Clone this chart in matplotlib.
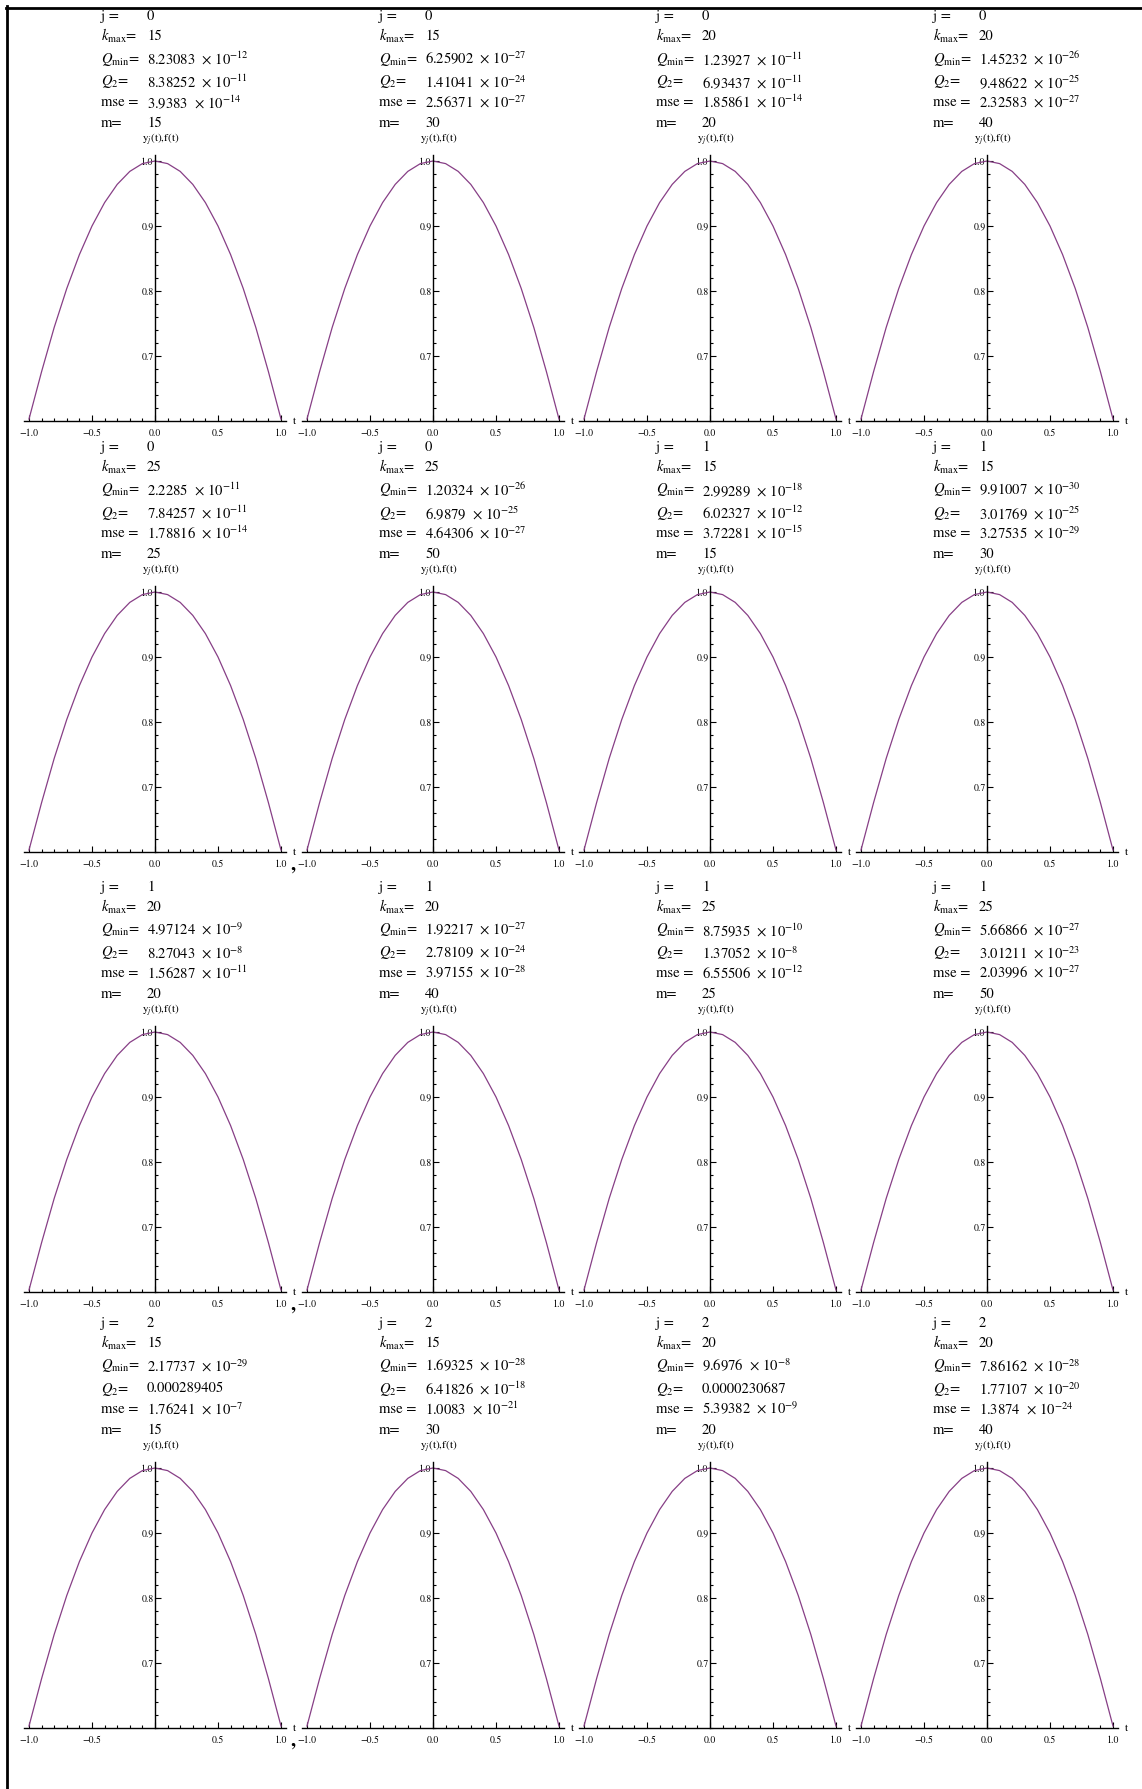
import math
import matplotlib
matplotlib.use("Agg")
import matplotlib.pyplot as plt
from matplotlib.lines import Line2D
from matplotlib.ticker import FixedLocator, MultipleLocator

plt.rcParams["font.family"] = ["STIXGeneral", "DejaVu Serif"]
plt.rcParams["mathtext.fontset"] = "stix"

# --- run parameters, one entry per panel (row-major, 4 x 4) ---
j_vals = [0, 0, 0, 0,
          0, 0, 1, 1,
          1, 1, 1, 1,
          2, 2, 2, 2]
kmax_vals = [15, 15, 20, 20,
             25, 25, 15, 15,
             20, 20, 25, 25,
             15, 15, 20, 20]
q_min = [8.23083e-12, 6.25902e-27, 1.23927e-11, 1.45232e-26,
         2.2285e-11, 1.20324e-26, 2.99289e-18, 9.91007e-30,
         4.97124e-9, 1.92217e-27, 8.75935e-10, 5.66866e-27,
         2.17737e-29, 1.69325e-28, 9.6976e-8, 7.86162e-28]
q_two = [8.38252e-11, 1.41041e-24, 6.93437e-11, 9.48622e-25,
         7.84257e-11, 6.9879e-25, 6.02327e-12, 3.01769e-25,
         8.27043e-8, 2.78109e-24, 1.37052e-8, 3.01211e-23,
         0.000289405, 6.41826e-18, 0.0000230687, 1.77107e-20]
mse_vals = [3.9383e-14, 2.56371e-27, 1.85861e-14, 2.32583e-27,
            1.78816e-14, 4.64306e-27, 3.72281e-15, 3.27535e-29,
            1.56287e-11, 3.97155e-28, 6.55506e-12, 2.03996e-27,
            1.76241e-7, 1.0083e-21, 5.39382e-9, 1.3874e-24]
m_vals = [15, 30, 20, 40,
          25, 50, 15, 30,
          20, 40, 25, 50,
          15, 30, 20, 40]

# --- sampled curve y_j(t) (coincides with f(t)) ---
t_pts = [-1.0, -0.9, -0.8, -0.7, -0.6, -0.5, -0.4, -0.3, -0.2, -0.1, 0.0,
         0.1, 0.2, 0.3, 0.4, 0.5, 0.6, 0.7, 0.8, 0.9, 1.0]
y_pts = [0.603, 0.676, 0.744, 0.804, 0.856, 0.900, 0.936, 0.964, 0.984, 0.996, 1.000,
         0.996, 0.984, 0.964, 0.936, 0.900, 0.856, 0.804, 0.744, 0.676, 0.603]

x_major = [-1.0, -0.5, 0.0, 0.5, 1.0]
x_labels = ["\u22121.0", "\u22120.5", "0.0", "0.5", "1.0"]
y_major = [0.7, 0.8, 0.9, 1.0]
y_labels = ["0.7", "0.8", "0.9", "1.0"]

W, H = 1142, 1789
fig = plt.figure(figsize=(W / 100, H / 100), dpi=100)


def fx(x):
    return x / W


def fy(y):
    return 1 - y / H


def fmt(v):
    e = math.floor(math.log10(v))
    if e >= -5:
        return f"{v:.{5 - e}f}".rstrip("0")
    mant = f"{v / 10 ** e:.5f}".rstrip("0").rstrip(".")
    return mant + "  \u00d7 10$^{-" + str(-e) + "}$"


# layout in pixels
col_cx = [155, 433, 710, 987]
half_w = 126
ext = 5
row_j = [16, 447, 887, 1323]          # first header line of each row
line_off = [0, 20, 43, 66, 86, 107]   # header line offsets below it
ylab_off = 124
top_off = 145                          # y = 1.0 level
plot_h = 260                           # from 1.0 down to the t axis

header_names = ["j =", r"$k_{\rm max}$=", r"$Q_{\rm min}$=", r"$Q_{2}$=", "mse =", "m="]
curve_color = "#873f86"

for idx in range(16):
    r, c = divmod(idx, 4)
    cx = col_cx[c]
    ytop = row_j[r] + top_off
    ybot = ytop + plot_h
    unit_y = plot_h / 0.4
    top_px = ytop - 6
    left_px = cx - half_w - ext
    right_px = cx + half_w + ext
    ax = fig.add_axes([fx(left_px), fy(ybot), (right_px - left_px) / W, (ybot - top_px) / H])
    ax.set_xlim(-1 - ext / half_w, 1 + ext / half_w)
    ax.set_ylim(0.6, 1.0 + 6 / unit_y)
    ax.patch.set_alpha(0)
    ax.plot(t_pts, y_pts, color=curve_color, lw=0.9, solid_joinstyle="round", clip_on=False)

    for s in ("top", "right"):
        ax.spines[s].set_visible(False)
    ax.spines["left"].set_position(("data", 0.0))
    ax.spines["left"].set_linewidth(1.0)
    ax.spines["bottom"].set_linewidth(1.0)

    ax.xaxis.set_major_locator(FixedLocator(x_major))
    ax.xaxis.set_minor_locator(MultipleLocator(0.1))
    ax.yaxis.set_major_locator(FixedLocator(y_major))
    ax.yaxis.set_minor_locator(MultipleLocator(0.02))
    xl = list(x_labels)
    if idx == 12:
        xl[2] = ""
    ax.set_xticklabels(xl)
    ax.set_yticklabels(y_labels)
    ax.tick_params(which="both", direction="in", width=0.8, labelsize=7)
    ax.tick_params(which="major", length=4)
    ax.tick_params(which="minor", length=2.5)
    ax.tick_params(axis="x", pad=5)
    ax.tick_params(axis="y", pad=1)

    # axis names
    fig.text(fx(cx + half_w + 12), fy(ybot), "t", fontsize=8, va="center", ha="left")
    fig.text(fx(cx - 13), fy(row_j[r] + ylab_off), r"y$_{\mathit{j}}$(t),f(t)", fontsize=8,
             va="center", ha="left")

    # run parameters above each panel
    vals = [str(j_vals[idx]), str(kmax_vals[idx]), fmt(q_min[idx]), fmt(q_two[idx]),
            fmt(mse_vals[idx]), str(m_vals[idx])]
    for k in range(6):
        yy = fy(row_j[r] + line_off[k])
        fig.text(fx(cx - 54), yy, header_names[k], fontsize=10.5, va="center", ha="left")
        fig.text(fx(cx - 8), yy, vals[k], fontsize=10.5, va="center", ha="left")

# list separators between first and second column
for r in (1, 2, 3):
    yc = row_j[r] + top_off + plot_h + 18
    fig.text(fx(293), fy(yc), ",", fontsize=14, fontweight="bold", va="baseline", ha="center")

# cell bracket
fig.add_artist(Line2D([fx(6.5), fx(6.5)], [fy(6), 0], color="black", lw=2.0,
                      transform=fig.transFigure))
fig.add_artist(Line2D([fx(6), 1], [fy(7.5), fy(7.5)], color="black", lw=2.0,
                      transform=fig.transFigure))

fig.savefig("out.png", dpi=100, facecolor="white")
